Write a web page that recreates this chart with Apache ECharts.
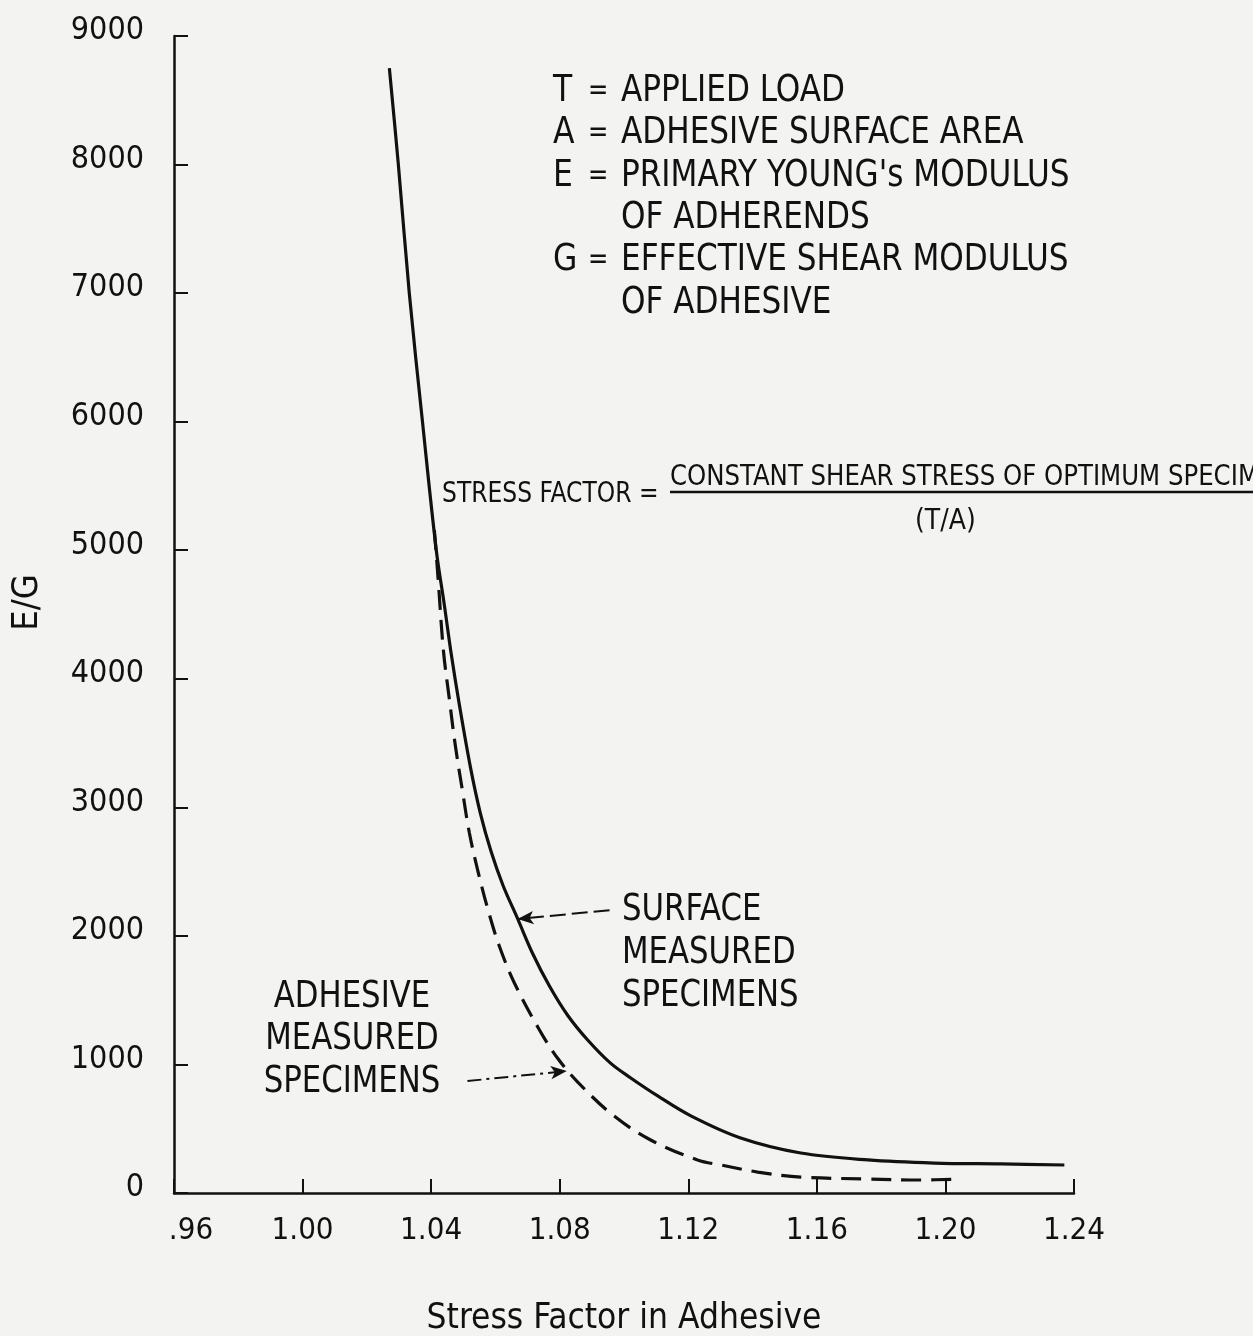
<!DOCTYPE html>
<html>
<head>
<meta charset="utf-8">
<script src="https://cdn.jsdelivr.net/npm/echarts@6/dist/echarts.min.js"></script>
<style>
html,body{margin:0;padding:0;background:#f3f3f1;}
#chart{width:1253px;height:1336px;}
</style>
</head>
<body>
<div id="chart"></div>
<script>
// ---- data ----
var xTickLabels = ['.96', '1.00', '1.04', '1.08', '1.12', '1.16', '1.20', '1.24'];
var yTickLabels = ['0', '1000', '2000', '3000', '4000', '5000', '6000', '7000', '8000', '9000'];

// Surface measured specimens (solid)
var surfaceX = [1.0270, 1.0298, 1.0332, 1.0373, 1.0416, 1.0441, 1.0463, 1.0488, 1.0522, 1.0553,
                1.0586, 1.0624, 1.0668, 1.0715, 1.0768, 1.0824, 1.0887, 1.0958, 1.1021, 1.1105,
                1.1208, 1.1363, 1.1550, 1.1759, 1.1965, 1.2173, 1.2370];
var surfaceY = [8750, 8000, 7000, 6000, 5000, 4575, 4185, 3795, 3315, 2955,
                2660, 2390, 2140, 1867, 1610, 1385, 1190, 1010, 895, 755,
                600, 428, 311, 257, 233, 226, 218];

// Adhesive measured specimens (dashed)
var adhesiveX = [1.0410, 1.0422, 1.0438, 1.0457, 1.0475, 1.0497, 1.0519, 1.0547, 1.0578, 1.0612,
                 1.0659, 1.0737, 1.0793, 1.0856, 1.0965, 1.1083, 1.1229, 1.1301, 1.1416, 1.1550,
                 1.1759, 1.1915, 1.2049];
var adhesiveY = [5157, 4768, 4224, 3835, 3485, 3135, 2800, 2489, 2194, 1921,
                 1634, 1268, 1050, 863, 607, 412, 257, 218, 163, 124,
                 109, 101, 109];

// pointer arrows [fromX, fromY, toX, toY]
var surfaceArrow = [1.0955, 2200, 1.0669, 2131];
var adhesiveArrow = [1.0513, 871, 1.0822, 949];

var legendLines = [
  ['T', 'APPLIED LOAD'],
  ['A', 'ADHESIVE SURFACE AREA'],
  ['E', "PRIMARY YOUNG's MODULUS"],
  ['', 'OF ADHERENDS'],
  ['G', 'EFFECTIVE SHEAR MODULUS'],
  ['', 'OF ADHESIVE']
];

// ---- chart ----
var FONT = "'Liberation Sans Narrow', 'DejaVu Sans Condensed', 'Roboto Condensed', 'Liberation Sans', sans-serif";
var INK = '#111';

function pairs(xs, ys) { return xs.map(function (x, i) { return [x, ys[i]]; }); }

function txt(x, y, s, size, sx, align) {
  return {
    type: 'text', x: x, y: y, scaleX: sx || 1, originX: 0, originY: 0,
    style: { text: s, font: size + 'px ' + FONT, fill: INK, align: align || 'left', verticalAlign: 'middle' }
  };
}

var graphics = [];
legendLines.forEach(function (ln, i) {
  var y = 91 + i * 42.4;
  if (ln[0]) {
    graphics.push(txt(553, y, ln[0], 38, 0.92));
    graphics.push(txt(588, y, '=', 30, 0.9));
  }
  graphics.push(txt(621, y, ln[1], 38, 0.91));
});
// stress factor formula
graphics.push(txt(442, 495, 'STRESS FACTOR =', 28, 0.93));
graphics.push(txt(670, 478, 'CONSTANT SHEAR STRESS OF OPTIMUM SPECIMEN', 28, 0.97));
graphics.push({ type: 'line', shape: { x1: 670, y1: 492, x2: 1253, y2: 492 }, style: { stroke: INK, lineWidth: 2.5 } });
graphics.push(txt(915, 522, '(T/A)', 28, 1));
// curve labels
['SURFACE', 'MEASURED', 'SPECIMENS'].forEach(function (t, i) {
  graphics.push(txt(622, 910 + i * 43, t, 38, 0.9));
});
['ADHESIVE', 'MEASURED', 'SPECIMENS'].forEach(function (t, i) {
  graphics.push(txt(352, 997 + i * 42.5, t, 38, 0.9, 'center'));
});

var chart = echarts.init(document.getElementById('chart'), null, { renderer: 'canvas' });
chart.setOption({
  backgroundColor: '#f3f3f1',
  animation: false,
  grid: { left: 174, right: 179, top: 36, bottom: 143, containLabel: false, outerBoundsMode: 'none' },
  xAxis: {
    type: 'value', min: 0.96, max: 1.24, interval: 0.04,
    name: 'Stress Factor in Adhesive', nameLocation: 'middle', nameGap: 108,
    nameTextStyle: { fontFamily: FONT, fontSize: 35, color: INK },
    axisLine: { show: true, onZero: false, lineStyle: { color: INK, width: 2.5 } },
    axisTick: { show: true, inside: true, length: 14, lineStyle: { color: INK, width: 2 } },
    splitLine: { show: false },
    axisLabel: {
      margin: 22, fontFamily: FONT, fontSize: 31, color: INK,
      formatter: function (v) {
        var i = Math.round((v - 0.96) / 0.04);
        return i === 0 ? '{pad|}' + xTickLabels[i] : xTickLabels[i];
      },
      rich: { pad: { width: 34 } }
    }
  },
  yAxis: {
    type: 'value', min: 0, max: 9000, interval: 1000,
    name: 'E/G', nameLocation: 'middle', nameGap: 128, nameRotate: 90,
    nameTextStyle: { fontFamily: FONT, fontSize: 36, color: INK, padding: [0, 0, 0, 24] },
    axisLine: { show: true, lineStyle: { color: INK, width: 2.5 } },
    axisTick: { show: true, inside: true, length: 14, lineStyle: { color: INK, width: 2 } },
    splitLine: { show: false },
    axisLabel: {
      margin: 30, fontFamily: FONT, fontSize: 32, color: INK,
      verticalAlign: 'bottom', lineHeight: 10,
      formatter: function (v) { return yTickLabels[Math.round(v / 1000)]; }
    }
  },
  series: [
    {
      name: 'SURFACE MEASURED SPECIMENS', type: 'line', data: pairs(surfaceX, surfaceY),
      symbol: 'none', smooth: 0.35, lineStyle: { color: INK, width: 3.2 }, z: 3,
      markLine: {
        silent: true, symbol: ['none', 'arrow'], symbolSize: [10, 16],
        label: { show: false },
        lineStyle: { color: INK, width: 2, type: [16, 6] },
        data: [[{ coord: [surfaceArrow[0], surfaceArrow[1]] }, { coord: [surfaceArrow[2], surfaceArrow[3]] }]]
      }
    },
    {
      name: 'ADHESIVE MEASURED SPECIMENS', type: 'line', data: pairs(adhesiveX, adhesiveY),
      symbol: 'none', smooth: 0.35, lineStyle: { color: INK, width: 3.2, type: [20, 10] }, z: 2,
      markLine: {
        silent: true, symbol: ['none', 'arrow'], symbolSize: [10, 16],
        label: { show: false },
        lineStyle: { color: INK, width: 2, type: [14, 5, 3, 5] },
        data: [[{ coord: [adhesiveArrow[0], adhesiveArrow[1]] }, { coord: [adhesiveArrow[2], adhesiveArrow[3]] }]]
      }
    }
  ],
  graphic: graphics
});
</script>
</body>
</html>
